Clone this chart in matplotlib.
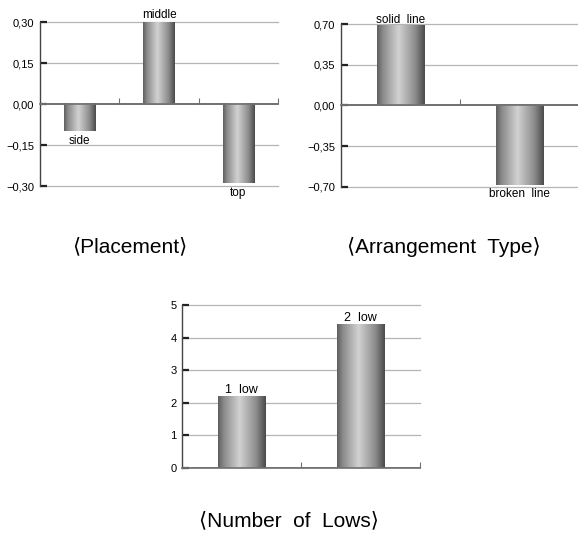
import numpy as np
import matplotlib
matplotlib.use('Agg')
import matplotlib.pyplot as plt
from matplotlib.colors import LinearSegmentedColormap

# data
place_cats = ['side', 'middle', 'top']
place_vals = [-0.10, 0.30, -0.29]
place_ticks = [-0.30, -0.15, 0.00, 0.15, 0.30]

arr_cats = ['solid  line', 'broken  line']
arr_vals = [0.68, -0.68]
arr_ticks = [-0.70, -0.35, 0.00, 0.35, 0.70]

low_cats = ['1  low', '2  low']
low_vals = [2.2, 4.4]
low_ticks = [0, 1, 2, 3, 4, 5]

plt.rcParams['font.family'] = ['Liberation Sans', 'DejaVu Sans']

cyl = LinearSegmentedColormap.from_list(
    'cyl', [(0.0, '#5e5e5e'), (0.12, '#8a8a8a'), (0.45, '#d2d2d2'),
            (0.8, '#8c8c8c'), (1.0, '#4a4a4a')])
grad = np.linspace(0, 1, 256).reshape(1, -1)


def comma(v, dec):
    s = f'{abs(v):.{dec}f}'.replace('.', ',')
    return ('\u2212' + s) if v < 0 else s


def barchart(ax, cats, vals, ticks, dec, lab_size):
    n = len(cats)
    w = 0.4
    for i, v in enumerate(vals):
        x0 = i + 0.5 - w / 2
        ax.imshow(grad, cmap=cyl, aspect='auto', extent=(x0, x0 + w, 0, v),
                  origin='lower', zorder=3, interpolation='bilinear')
        if v >= 0:
            ax.annotate(cats[i], (i + 0.5, v), xytext=(0, 0.5),
                        textcoords='offset points', ha='center', va='bottom',
                        fontsize=lab_size, zorder=5)
        else:
            ax.annotate(cats[i], (i + 0.5, v), xytext=(0, -2.5),
                        textcoords='offset points', ha='center', va='top',
                        fontsize=lab_size, zorder=5, annotation_clip=False)
    ax.set_xlim(0, n)
    ax.set_ylim(ticks[0], ticks[-1])
    ax.set_yticks(ticks)
    ax.set_yticklabels([comma(t, dec) for t in ticks], fontsize=8)
    for t in ticks:
        if t == 0:
            continue
        ax.axhline(t, color='#b4b4b4', lw=0.9, zorder=1, clip_on=False)
    ax.axhline(0, color='#707070', lw=1.2, zorder=4)
    ax.set_xticks(range(1, n + 1))
    ax.set_xticklabels([])
    ax.tick_params(axis='x', direction='in', length=4, width=0.8,
                   color='#707070')
    ax.tick_params(axis='y', direction='in', length=5, width=1.6,
                   color='#222222', pad=4)
    for s in ['top', 'right']:
        ax.spines[s].set_visible(False)
    ax.spines['left'].set_color('#444444')
    ax.spines['left'].set_linewidth(1.0)
    ax.spines['bottom'].set_position(('data', 0))
    ax.spines['bottom'].set_color('#707070')
    ax.spines['bottom'].set_linewidth(1.2)


fig = plt.figure(figsize=(5.78, 5.37), dpi=100)

ax1 = fig.add_axes([0.0692, 0.6536, 0.412, 0.3054])
barchart(ax1, place_cats, place_vals, place_ticks, 2, 8.5)

ax2 = fig.add_axes([0.590, 0.6518, 0.412, 0.3035])
barchart(ax2, arr_cats, arr_vals, arr_ticks, 2, 8.5)

ax3 = fig.add_axes([0.3149, 0.1285, 0.4118, 0.3035])
barchart(ax3, low_cats, low_vals, low_ticks, 0, 9)

tfont = ['Liberation Sans', 'DejaVu Sans']
fig.text(130 / 578, 1 - 247 / 537, '\u27e8Placement\u27e9', ha='center',
         va='center', fontsize=15, family=tfont)
fig.text(444 / 578, 1 - 247 / 537, '\u27e8Arrangement  Type\u27e9',
         ha='center', va='center', fontsize=15, family=tfont)
fig.text(289 / 578, 1 - 521 / 537, '\u27e8Number  of  Lows\u27e9',
         ha='center', va='center', fontsize=15, family=tfont)

fig.savefig('out.png', dpi=100)
